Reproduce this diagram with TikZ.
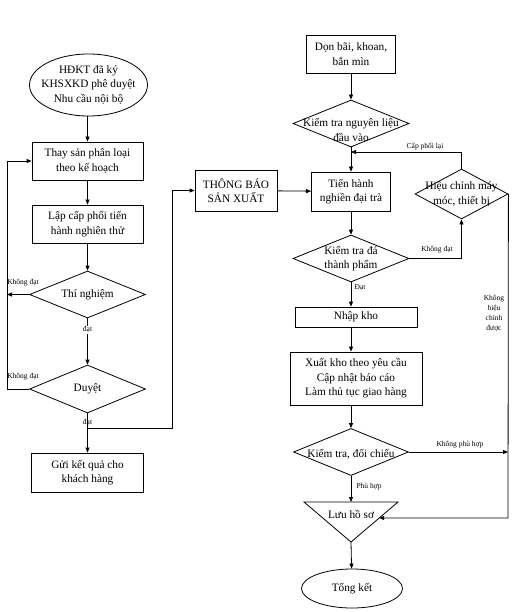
\documentclass[tikz,border=0pt]{standalone}
\usepackage{fontspec}
\setmainfont{Liberation Serif}
\usetikzlibrary{shapes.geometric,arrows.meta}
\tikzset{
  every node/.style={font=\fontsize{11.3}{14.5}\selectfont, align=center},
  box/.style={draw, line width=0.8pt, inner sep=0pt},
  dia/.style={draw, diamond, inner sep=0pt, line width=0.8pt},
  ellshape/.style={draw, ellipse, inner sep=0pt, line width=0.8pt},
  lab/.style={font=\fontsize{7.5}{10}\selectfont, inner sep=1pt},
  arr/.style={-{Triangle[length=5pt,width=4pt]}, line width=0.8pt},
  ln/.style={line width=0.8pt}
}
\begin{document}
\begin{tikzpicture}[x=1pt,y=-1pt]
\useasboundingbox (0,0) rectangle (516,612);
% ---------- left column ----------
\node[ellshape, minimum width=118pt, minimum height=62pt] (start) at (88.5,85) {};
\node (startt) at (start.center) {HĐKT đã ký\\KHSXKD phê duyệt\\Nhu cầu nội bộ};
\node[box, minimum width=111pt, minimum height=38pt] (b1) at (87.5,161) {Thay sản phân loại\\theo kế hoạch};
\node[box, minimum width=111pt, minimum height=38pt] (b2) at (87.5,224) {Lập cấp phối tiến\\hành nghiên thử};
\node[dia, minimum width=116pt, minimum height=47pt] (d1) at (87.5,294.5) {};
\node (d1t) at (d1.center) {Thí nghiệm};
\node[dia, minimum width=116pt, minimum height=48pt] (d2) at (87.5,389) {};
\node (d2t) at (d2.center) {Duyệt};
\node[box, minimum width=112pt, minimum height=39pt] (b3) at (87.5,472.5) {Gửi kết quả cho\\khách hàng};
\coordinate (lx) at (7,0);
\coordinate (j) at (87.5,428);
% ---------- right column ----------
\coordinate (cx) at (351,0);
\node[box, minimum width=89pt, minimum height=38pt] (b4) at (351,54) {Dọn bãi, khoan,\\bắn mìn};
\node[dia, minimum width=116pt, minimum height=47pt] (d3) at (351,123.5) {};
\node (d3t) at (351,130) {Kiểm tra nguyên liệu\\đầu vào};
\node[box, minimum width=79pt, minimum height=39pt] (b5) at (351,191.5) {Tiến hành\\nghiền đại trà};
\node[box, minimum width=82pt, minimum height=41pt] (tb) at (236,190.5) {THÔNG BÁO\\SẢN XUẤT};
\node[dia, minimum width=116pt, minimum height=47pt] (d4) at (351,258.5) {};
\node (d4t) at (d4.center) {Kiểm tra đá\\thành phẩm};
\node[dia, minimum width=93pt, minimum height=50pt] (d5) at (461.5,194) {};
\node (d5t) at (d5.center) {Hiệu chỉnh máy\\móc, thiết bị};
\node[box, minimum width=122pt, minimum height=20pt] (b6) at (356,317) {Nhập kho};
\node[box, minimum width=132pt, minimum height=53pt] (b7) at (356,378.5) {Xuất kho theo yêu cầu\\Cập nhật báo cáo\\Làm thủ tục giao hàng};
\node[dia, minimum width=115pt, minimum height=47pt] (d6) at (351,452) {};
\node (d6t) at (351,454) {Kiểm tra, đối chiếu};
\coordinate (tl) at (304,502);
\coordinate (tr) at (398,502);
\coordinate (ta) at (351,542);
\coordinate (ttop) at (351,502);
\draw[ln] (tl) -- (tr) -- (ta) -- cycle;
\node (luu) at (351,514) {Lưu hồ sơ};
\node[ellshape, minimum width=101pt, minimum height=39pt] (end) at (352,588.5) {};
\node (endt) at (end.center) {Tổng kết};
\coordinate (cp) at (351,152);
\coordinate (rl) at (508,518);
\coordinate (tri) at (379.2,518);
% ---------- connectors left ----------
\draw[arr] (b1.north |- start.south) -- (b1.north);
\draw[arr] (b1) -- (b2);
\draw[arr] (b2) -- (d1);
\draw[arr] (d1) -- (d2);
\draw[arr] (d2) -- (b3);
\draw[arr] (d2.west) -- (d2.west -| lx) |- (b1.west);
\draw[arr] (d1.west) -- (d1.west -| lx);
\draw[arr] (j) -- (172,428) |- (tb.west);
\node[lab] (k1) at (23,283) {Không đạt};
\node[lab] (k2) at (23,377) {Không đạt};
\node[lab, fill=white] (dat1) at (87.5,330) {đạt};
\node[lab] (dat2) at (87.5,423) {đạt};
% ---------- connectors right ----------
\draw[arr] (b4) -- (d3);
\draw[arr] (d3) -- (b5);
\draw[arr] (tb) -- (b5);
\draw[arr] (b5) -- (d4);
\draw[arr] (d4.south) -- (d4.south |- b6.north);
\draw[arr] (b6.south -| cx) -- (b7.north -| cx);
\draw[arr] (b7.south -| cx) -- (d6.north);
\draw[arr] (d6) -- (ttop);
\draw[arr] (ta) -- (end);
\draw[arr] (d4.east) -| (d5.south);
\draw[arr] (d5.north) |- (cp);
\draw[arr] (d5.east) -- (rl) -- (tri);
\draw[arr] (d6.east) -- (d6.east -| rl);
\node[lab] (l3) at (360,288) {Đạt};
\node[lab] (l4) at (437,250) {Không đạt};
\node[lab] (l5) at (425,147) {Cấp phối lại};
\node[lab] (l6) at (460,445) {Không phù hợp};
\node[lab] (l7) at (369,487) {Phù hợp};
\node[lab] (l8) at (494,314) {Không\\hiệu\\chỉnh\\được};
\end{tikzpicture}
\end{document}
